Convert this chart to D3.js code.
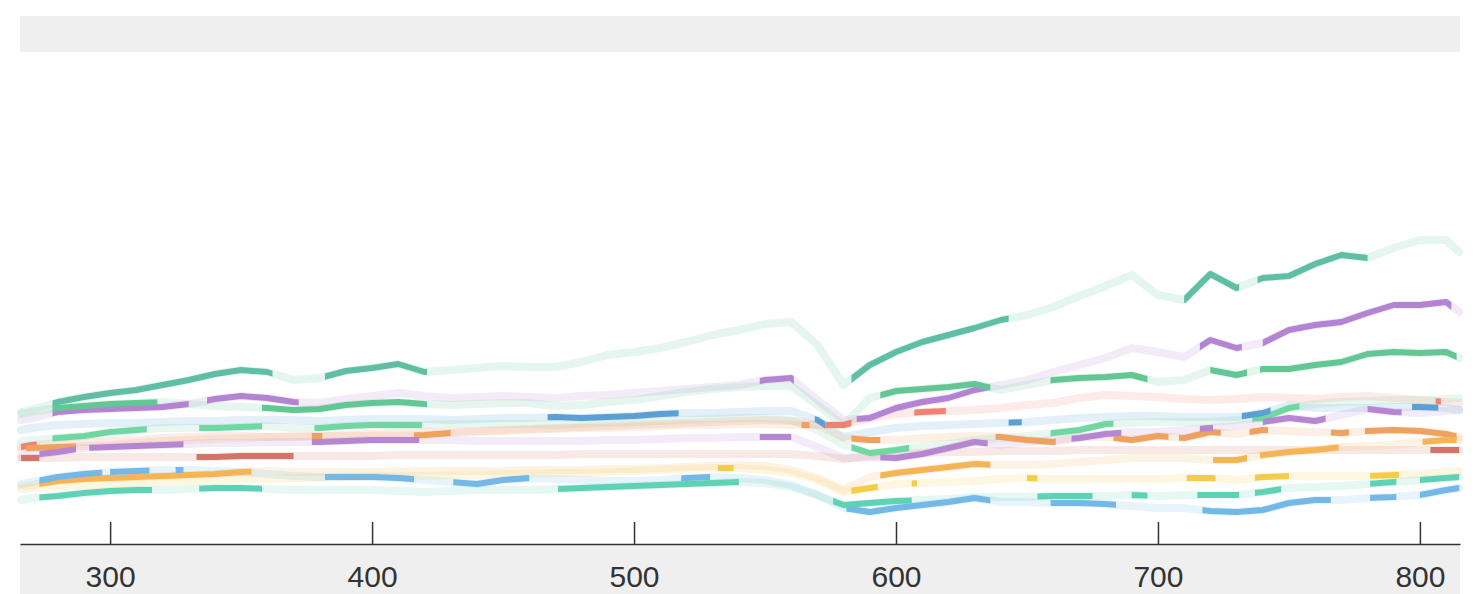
<!DOCTYPE html>
<html>
<head>
<meta charset="utf-8">
<script src="https://cdn.jsdelivr.net/npm/d3@7"></script>
<style>
  body { margin: 0; background: #fff; }
  svg { display: block; }
  .axis text { font-family: "Liberation Sans", Arial, sans-serif; fill: #333; }
  .axis line, .axis path { stroke: #333; stroke-width: 1.5px; }
</style>
</head>
<body>
<svg width="1482" height="594"></svg>
<script>
// x positions of the samples
var days = [266, 270, 280, 290, 300, 310, 320, 330, 340, 350, 360, 370, 380, 390, 400, 410, 420, 430, 440, 450,
    460, 470, 480, 490, 500, 510, 520, 530, 540, 550, 560, 570, 580, 590, 600, 610, 620, 630, 640, 650,
    660, 670, 680, 690, 700, 710, 720, 730, 740, 750, 760, 770, 780, 790, 800, 810, 815];

var tickValues = [300, 400, 500, 600, 700, 800];

var tealValues = [128, 130, 138, 143, 147, 150, 155, 160, 166, 170, 168, 160, 162, 169, 172, 176, 168, 170, 172, 174,
    173, 173, 178, 185, 188, 192, 198, 205, 210, 216, 218, 195, 155, 175, 188, 198, 205, 212, 220, 225,
    233, 244, 254, 265, 245, 240, 266, 252, 262, 264, 276, 285, 282, 292, 300, 300, 288];
var purpleValues = [120, 122, 128, 130, 131, 132, 133, 136, 141, 144, 142, 138, 137, 141, 144, 147, 144, 142, 143, 144,
    143, 142, 144, 145, 147, 149, 151, 153, 155, 160, 162, 140, 120, 122, 132, 138, 142, 150, 155, 160,
    168, 175, 182, 192, 188, 183, 200, 192, 197, 210, 215, 218, 227, 235, 235, 238, 228];
var greenValues = [126, 128, 132, 134, 136, 137, 138, 136, 134, 133, 132, 130, 131, 135, 137, 138, 136, 135, 136, 137,
    137, 134, 135, 138, 140, 144, 148, 151, 153, 154, 154, 135, 115, 142, 149, 151, 153, 156, 150, 155,
    160, 162, 163, 165, 158, 160, 170, 165, 171, 171, 175, 178, 186, 188, 187, 188, 182];
var mintValues = [98, 100, 102, 104, 108, 110, 112, 112, 112, 113, 114, 112, 112, 114, 115, 115, 115, 116, 116, 116,
    116, 115, 116, 117, 118, 119, 120, 121, 122, 122, 120, 110, 95, 87, 90, 94, 96, 100, 102, 104,
    107, 110, 116, 117, 118, 118, 118, 120, 122, 132, 136, 138, 139, 140, 140, 141, 142];
var blueValues = [110, 112, 115, 116, 117, 117, 118, 119, 119, 120, 120, 120, 119, 120, 121, 121, 121, 120, 121, 122,
    122, 123, 122, 123, 124, 126, 127, 127, 128, 129, 129, 120, 103, 108, 112, 114, 115, 116, 117, 118,
    120, 122, 123, 124, 124, 123, 123, 123, 127, 135, 132, 132, 132, 133, 133, 132, 130];
var orangeValues = [91, 92, 93, 94, 95, 97, 99, 100, 101, 102, 103, 104, 104, 104, 104, 104, 105, 107, 108, 109,
    110, 111, 112, 112, 113, 114, 115, 115, 116, 116, 115, 115, 102, 100, 100, 102, 103, 104, 103, 100,
    98, 103, 103, 100, 104, 102, 108, 106, 110, 109, 108, 107, 109, 110, 109, 106, 103];
var lilacValues = [83, 85, 88, 92, 93, 94, 95, 96, 97, 97, 98, 98, 98, 99, 100, 100, 100, 100, 99, 99,
    99, 99, 99, 100, 100, 101, 102, 102, 103, 103, 103, 93, 82, 83, 82, 86, 92, 98, 95, 98,
    100, 102, 106, 108, 108, 110, 112, 114, 118, 122, 119, 125, 131, 128, 127, 129, 130];
var redValues = [82, 82, 82, 83, 83, 83, 83, 83, 83, 84, 84, 84, 84, 84, 84, 85, 85, 85, 85, 85,
    85, 85, 86, 86, 86, 86, 86, 86, 86, 86, 86, 84, 81, 84, 86, 87, 88, 88, 89, 89,
    89, 90, 90, 90, 90, 90, 90, 90, 90, 90, 90, 90, 90, 90, 90, 90, 90];
var skyValues = [56, 58, 63, 66, 68, 69, 70, 70, 69, 68, 66, 64, 63, 63, 63, 62, 60, 58, 56, 60,
    62, 61, 60, 59, 59, 60, 62, 63, 62, 60, 55, 45, 32, 28, 32, 35, 38, 42, 38, 38,
    37, 37, 36, 34, 32, 32, 29, 28, 30, 37, 40, 40, 42, 43, 45, 50, 52];
var amberValues = [54, 55, 59, 61, 62, 63, 64, 65, 66, 68, 69, 68, 68, 68, 68, 68, 69, 69, 69, 69,
    70, 70, 70, 71, 71, 72, 73, 74, 75, 74, 70, 62, 50, 63, 67, 70, 73, 76, 75, 75,
    76, 78, 80, 82, 82, 82, 80, 80, 85, 88, 90, 93, 94, 95, 98, 100, 100];
var yellowValues = [51, 52, 54, 55, 56, 57, 58, 59, 60, 61, 61, 62, 62, 63, 64, 64, 64, 65, 65, 66,
    66, 67, 67, 68, 69, 70, 71, 72, 72, 70, 67, 60, 48, 52, 56, 57, 58, 59, 61, 62,
    61, 61, 61, 61, 61, 62, 62, 60, 63, 64, 64, 64, 64, 65, 66, 68, 69];
var turquoiseValues = [40, 42, 44, 47, 49, 50, 50, 51, 52, 52, 51, 50, 50, 50, 50, 49, 48, 49, 50, 50,
    50, 51, 52, 53, 54, 55, 56, 57, 58, 57, 53, 45, 35, 37, 39, 40, 41, 43, 43, 43,
    44, 44, 44, 45, 44, 45, 45, 45, 48, 52, 53, 54, 56, 58, 60, 62, 63];
var salmonValues = [93, 95, 97, 98, 99, 100, 102, 103, 104, 104, 103, 103, 104, 105, 106, 107, 108, 108, 109, 110,
    111, 112, 113, 114, 115, 116, 117, 118, 119, 120, 119, 115, 115, 122, 126, 128, 129, 130, 132, 135,
    137, 142, 145, 144, 143, 141, 140, 141, 143, 142, 141, 143, 144, 142, 140, 138, 137];

// stretches where each line is drawn at full strength
var tealOn = [[278, 362], [382, 421], [583, 643], [710, 731], [738, 780]];
var purpleOn = [[278, 330], [337, 372], [548, 561], [585, 635], [716, 732], [740, 812]];
var greenOn = [[278, 318], [358, 421], [594, 636], [659, 696], [720, 734], [739, 814]];
var mintOn = [[278, 314], [334, 358], [378, 419], [583, 605], [659, 683], [736, 754]];
var blueOn = [[467, 517], [569, 573], [643, 648], [732, 743], [797, 807]];
var orangeOn = [[268, 287], [377, 381], [416, 430], [564, 567], [583, 594], [638, 661], [683, 704], [708, 724], [735, 742], [766, 773], [779, 814]];
var lilacOn = [[273, 287], [292, 328], [377, 418], [548, 560], [594, 635], [667, 686], [716, 721], [740, 764], [780, 793]];
var redOn = [[266, 273], [333, 370], [804, 815]];
var skyOn = [[273, 297], [300, 315], [325, 328], [382, 416], [431, 460], [518, 529], [581, 636], [659, 684], [717, 766], [781, 791], [800, 815]];
var amberOn = [[273, 354], [594, 636], [721, 734], [739, 769], [801, 814]];
var yellowOn = [[532, 538], [583, 593], [606, 608], [650, 654], [711, 722], [737, 750], [781, 792]];
var turquoiseOn = [[273, 316], [334, 358], [471, 540], [576, 606], [654, 675], [690, 696], [715, 731], [737, 747], [781, 791], [800, 815]];
var salmonOn = [[266, 272], [573, 583], [607, 619], [806, 808]];

var series = [
    {name: "teal", color: "#5fbea4", values: tealValues, on: tealOn},
    {name: "purple", color: "#b384d2", values: purpleValues, on: purpleOn},
    {name: "green", color: "#62c695", values: greenValues, on: greenOn},
    {name: "mint", color: "#70d6a2", values: mintValues, on: mintOn},
    {name: "blue", color: "#5aa0d4", values: blueValues, on: blueOn},
    {name: "salmon", color: "#ef8273", values: salmonValues, on: salmonOn},
    {name: "orange", color: "#efa15f", values: orangeValues, on: orangeOn},
    {name: "lilac", color: "#b686d3", values: lilacValues, on: lilacOn},
    {name: "red", color: "#d47468", values: redValues, on: redOn},
    {name: "amber", color: "#f5b556", values: amberValues, on: amberOn},
    {name: "yellow", color: "#f4cc4a", values: yellowValues, on: yellowOn},
    {name: "sky", color: "#73b8e6", values: skyValues, on: skyOn},
    {name: "turquoise", color: "#5fd2b5", values: turquoiseValues, on: turquoiseOn}
];

var svg = d3.select("svg"),
    left = 20, right = 1460,
    axisY = 544;

var x = d3.scaleLinear().domain([265.6, 815.3]).range([left, right]);
var y = d3.scaleLinear().domain([0, 500]).range([540, 40]);

// grey bands top and bottom
svg.append("rect").attr("x", left).attr("y", 16).attr("width", right - left).attr("height", 36).attr("fill", "#efefef");
svg.append("rect").attr("x", left).attr("y", axisY).attr("width", right - left).attr("height", 594 - axisY).attr("fill", "#efefef");

var line = d3.line()
    .x(function(d, i) { return x(days[i]); })
    .y(function(d) { return y(d); });

var defs = svg.append("defs");
series.forEach(function(s) {
    var clip = defs.append("clipPath").attr("id", "on-" + s.name);
    clip.selectAll("rect").data(s.on).enter().append("rect")
        .attr("x", function(r) { return x(r[0]); })
        .attr("width", function(r) { return x(r[1]) - x(r[0]); })
        .attr("y", 0)
        .attr("height", axisY);
});

var g = svg.append("g").attr("fill", "none").attr("stroke-linejoin", "round").attr("stroke-linecap", "round");

g.selectAll(".faded").data(series).enter().append("path")
    .attr("class", "faded")
    .attr("d", function(s) { return line(s.values); })
    .attr("stroke", function(s) { return s.color; })
    .attr("stroke-opacity", 0.16)
    .attr("stroke-width", 8);

g.selectAll(".solid").data(series).enter().append("path")
    .attr("class", "solid")
    .attr("d", function(s) { return line(s.values); })
    .attr("stroke", function(s) { return s.color; })
    .attr("stroke-width", 6)
    .attr("clip-path", function(s) { return "url(#on-" + s.name + ")"; });

var axis = svg.append("g")
    .attr("class", "axis")
    .attr("transform", "translate(0," + axisY + ")")
    .call(d3.axisBottom(x).tickValues(tickValues).tickSizeInner(-22).tickSizeOuter(0).tickPadding(22));

axis.selectAll("text").attr("font-size", 30).attr("font-family", null);
</script>
</body>
</html>
